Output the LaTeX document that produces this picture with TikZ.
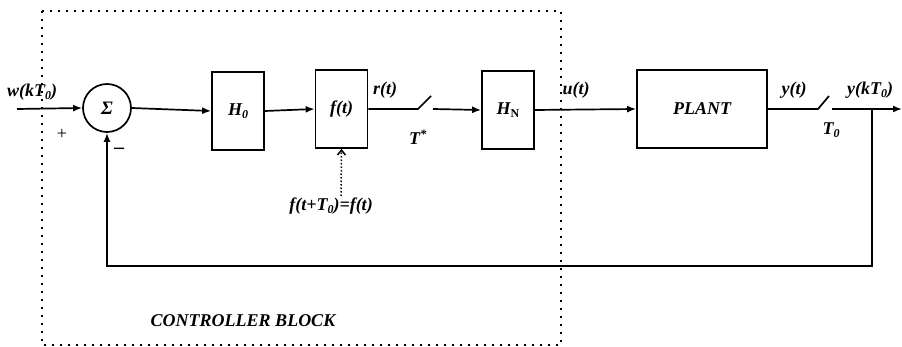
\documentclass[tikz,border=0pt]{standalone}
\usepackage{fontspec}
\setmainfont{Liberation Serif}
\usetikzlibrary{arrows.meta}
\newcommand{\lbl}[1]{\fontsize{18}{21}\selectfont\bfseries\itshape #1}
\newcommand{\sbs}[1]{\raisebox{-0.35ex}{\fontsize{12}{13}\selectfont #1}}
\begin{document}
\begin{tikzpicture}[x=1pt,y=-1pt,
  wire/.style={line width=1.7pt},
  arr/.style={wire,-{Latex[length=9pt,width=7pt]}},
  blk/.style={draw,line width=1.7pt,minimum width=52pt,minimum height=78pt,inner sep=0pt,font=\lbl},
  txt/.style={inner sep=0pt,font=\lbl}]
\useasboundingbox (0,0) rectangle (902,347);
% controller block
\draw[line width=2.2pt,dash pattern=on 1.8pt off 6.2pt] (42,11) rectangle (561,345);
\node[txt] (ctl) at (243,321) {CONTROLLER BLOCK};
% blocks
\node[draw,circle,line width=1.7pt,minimum size=48pt,inner sep=0pt,font=\fontsize{19}{21}\selectfont\bfseries\itshape] (sum) at (107,108) {Σ};
\node[blk] (h0) at (238,111) {H\sbs{0}};
\node[blk] (ft) at (341.5,109) {f(t)};
\node[blk] (hn) at (508,110) {H\sbs{\upshape N}};
\node[blk,minimum width=130pt] (plant) at (702,109) {PLANT};
% coordinates
\coordinate (in) at (17,109);
\coordinate (s1a) at (418,109);
\coordinate (s1b) at (431,96);
\coordinate (s1c) at (433,109);
\coordinate (s2a) at (818,109);
\coordinate (s2b) at (829,96);
\coordinate (s2c) at (832,109);
\coordinate (jn) at (872,109);
\coordinate (out) at (902,109);
\coordinate (fb) at (872,266);
\coordinate (fsrc) at (341,196);
% connectors
\draw[arr] (in) -- (sum.west);
\draw[arr] (sum.east) -- (h0.west);
\draw[arr] (h0.east) -- (ft.west);
\draw[wire] (ft.east) -- (s1a) -- (s1b);
\draw[arr] (s1c) -- (hn.west);
\draw[arr] (hn.east) -- (plant.west);
\draw[wire] (plant.east) -- (s2a) -- (s2b);
\draw[arr] (s2c) -- (out);
\draw[arr] (jn) -- (fb) -| (sum.south);
\draw[line width=1.5pt,dotted,-{Straight Barb[length=5pt,width=8pt]}] (fsrc) -- (ft.south);
% labels
\node[txt] (lw) at (32,92) {w(kT\sbs{0})};
\node[txt,font=\fontsize{18}{21}\selectfont] (lp) at (62,134) {+};
\node[txt,font=\fontsize{20}{21}\selectfont\bfseries] (lm) at (119,151) {–};
\node[txt] (lr) at (385,90) {r(t)};
\node[txt] (lts) at (418,137) {T\textsuperscript{*}};
\node[txt] (lu) at (576,90) {u(t)};
\node[txt] (ly) at (794,90) {y(t)};
\node[txt] (lt0) at (831,130) {T\sbs{0}};
\node[txt] (lyk) at (870,90) {y(kT\sbs{0})};
\node[txt] (lf) at (331,206) {f(t+T\sbs{0})=f(t)};
\end{tikzpicture}
\end{document}
